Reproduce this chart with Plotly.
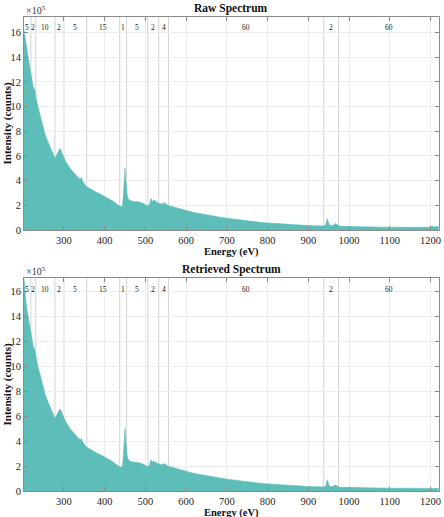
import plotly.graph_objects as go

# Energy axis (eV)
energy = [202,204,207,210,213,216,219,222,225,228,229,232,236,240,245,250,255,260,265,270,275,278,281,284,287,290,292,295,298,301,305,310,315,320,325,330,335,340,343,345,348,352,356,362,370,380,390,400,410,420,428,434,438,442,444,446,448,450,451,453,455,457,460,465,470,475,480,485,490,495,500,504,507,510,512,514,516,518,520,522,525,530,535,540,544,546,548,551,555,560,570,580,590,600,615,630,645,660,675,690,705,720,735,750,765,780,795,810,825,840,855,870,885,900,915,930,940,943,945,947,949,952,956,960,964,967,970,974,980,990,1000,1020,1040,1060,1080,1100,1120,1140,1160,1180,1195,1200,1205,1210,1215,1220]

# Intensity in units of 1e5 counts
raw = [16.2,15.7,15.0,14.3,13.8,13.2,12.6,12.0,11.5,11.4,11.1,10.6,10.0,9.5,8.8,8.1,7.6,7.2,6.8,6.4,6.0,5.8,6.0,6.2,6.4,6.6,6.5,6.3,6.0,5.8,5.5,5.2,5.0,4.8,4.6,4.4,4.25,4.1,4.25,4.0,3.8,3.65,3.5,3.38,3.22,3.05,2.9,2.73,2.55,2.35,2.15,2.0,1.92,1.9,2.0,2.8,3.8,5.0,4.4,3.5,2.9,2.6,2.45,2.35,2.3,2.28,2.3,2.27,2.22,2.15,2.05,2.0,1.95,2.1,2.4,2.55,2.35,2.3,2.45,2.4,2.25,2.2,2.15,2.1,2.15,2.25,2.15,2.05,2.0,1.95,1.85,1.75,1.65,1.55,1.45,1.35,1.25,1.17,1.08,1.0,0.93,0.86,0.8,0.74,0.68,0.63,0.58,0.54,0.5,0.47,0.44,0.41,0.38,0.36,0.34,0.33,0.33,0.45,0.75,0.9,0.65,0.4,0.35,0.36,0.45,0.55,0.45,0.35,0.3,0.3,0.28,0.27,0.25,0.24,0.23,0.22,0.22,0.21,0.21,0.22,0.22,0.25,0.3,0.25,0.3,0.24]

retrieved = [17.0,16.0,15.1,14.4,13.8,13.2,12.6,12.0,11.5,11.4,11.1,10.6,10.0,9.5,8.8,8.1,7.6,7.2,6.8,6.4,6.0,5.8,6.0,6.2,6.4,6.55,6.5,6.3,6.0,5.8,5.5,5.2,5.0,4.8,4.6,4.4,4.25,4.1,4.2,4.0,3.8,3.65,3.5,3.38,3.22,3.05,2.9,2.73,2.55,2.35,2.15,2.0,1.92,1.9,2.0,2.8,3.8,5.0,4.4,3.5,2.9,2.6,2.45,2.35,2.3,2.28,2.3,2.27,2.22,2.15,2.05,2.0,1.95,2.1,2.4,2.5,2.35,2.3,2.4,2.35,2.25,2.2,2.15,2.1,2.15,2.2,2.15,2.05,2.0,1.95,1.85,1.75,1.65,1.55,1.45,1.35,1.25,1.17,1.08,1.0,0.93,0.86,0.8,0.74,0.68,0.63,0.58,0.54,0.5,0.47,0.44,0.41,0.38,0.36,0.34,0.33,0.33,0.45,0.75,0.9,0.65,0.4,0.35,0.36,0.42,0.5,0.42,0.33,0.3,0.29,0.28,0.27,0.25,0.24,0.23,0.22,0.22,0.21,0.21,0.21,0.21,0.21,0.21,0.21,0.21,0.21]

# Acquisition region boundaries (eV) and step labels
boundaries = [202, 219, 231, 278, 300, 356, 437, 454, 506, 533, 557, 938, 974, 1221]
step_labels = ["5", "2", "10", "2", "5", "15", "1", "5", "2", "4", "60", "2", "60"]

x_ticks = [300, 400, 500, 600, 700, 800, 900, 1000, 1100, 1200]
y_ticks = [0, 2, 4, 6, 8, 10, 12, 14, 16]

titles = ["Raw Spectrum", "Retrieved Spectrum"]
series = [raw, retrieved]
y_max = [17.25, 17.05]

W, H = 444, 517
FILL = "#5cbdb9"
SERIF = "Liberation Serif, Times New Roman, serif"

# pixel boxes for each panel: (top, bottom)
panels = [(17, 230), (278, 491)]
x_left, x_right = 24, 439

fig = go.Figure()
annotations = []
shapes = []
for i, (vals, title) in enumerate(zip(series, titles)):
    xa = "x" if i == 0 else "x2"
    ya = "y" if i == 0 else "y2"
    fig.add_trace(go.Scatter(x=energy, y=vals, mode="lines", fill="tozeroy",
                             fillcolor=FILL, line=dict(color=FILL, width=0.6),
                             xaxis=xa, yaxis=ya, showlegend=False, hoverinfo="skip"))
    top, bot = panels[i]
    dom_y = [1 - bot / H, 1 - top / H]
    axis_common = dict(showline=True, linecolor="#8c8c8c", linewidth=1, mirror="allticks",
                       ticks="inside", ticklen=4, tickcolor="#8c8c8c",
                       showgrid=True, gridcolor="#ececec", gridwidth=1, zeroline=False,
                       tickfont=dict(family=SERIF, size=10.5, color="#262626"),
                       automargin=False)
    xkey = "xaxis" if i == 0 else "xaxis2"
    ykey = "yaxis" if i == 0 else "yaxis2"
    fig.update_layout(**{
        xkey: dict(axis_common, domain=[x_left / W, x_right / W], range=[202, 1221],
                   tickvals=x_ticks, anchor=ya),
        ykey: dict(axis_common, domain=dom_y, range=[0, y_max[i]],
                   tickvals=y_ticks, anchor=xa),
    })
    # region lines
    for b in boundaries[1:-1]:
        shapes.append(dict(type="line", xref=xa, x0=b, x1=b,
                           yref=ya + " domain", y0=0, y1=1,
                           line=dict(color="#d2d2d2", width=1), layer="below"))
    # region labels
    for j, lab in enumerate(step_labels):
        mid = (boundaries[j] + boundaries[j + 1]) / 2
        annotations.append(dict(x=mid, xref=xa, y=1 - (top + 11) / H, yref="paper",
                                text=lab, showarrow=False,
                                font=dict(family=SERIF, size=7.5, color="#222222"),
                                xanchor="center", yanchor="middle"))
    cx = (x_left + x_right) / 2 / W
    annotations.append(dict(x=cx, y=1 - (top - 9) / H, xref="paper", yref="paper",
                            text="<b>" + title + "</b>", showarrow=False,
                            font=dict(family=SERIF, size=11.5, color="#111"),
                            xanchor="center", yanchor="middle"))
    annotations.append(dict(x=x_left / W, y=1 - (top - 7) / H, xref="paper", yref="paper",
                            text="×10<sup>5</sup>", showarrow=False,
                            font=dict(family=SERIF, size=10, color="#333"),
                            xanchor="left", yanchor="middle"))
    annotations.append(dict(x=cx, y=1 - (bot + 21.5) / H, xref="paper", yref="paper",
                            text="<b>Energy (eV)</b>", showarrow=False,
                            font=dict(family=SERIF, size=10.5, color="#111"),
                            xanchor="center", yanchor="middle"))
    annotations.append(dict(x=7 / W, y=1 - ((top + bot) / 2) / H, xref="paper", yref="paper",
                            text="<b>Intensity (counts)</b>", showarrow=False, textangle=-90,
                            font=dict(family=SERIF, size=11, color="#111"),
                            xanchor="center", yanchor="middle"))

fig.update_layout(width=W, height=H, margin=dict(l=0, r=0, t=0, b=0),
                  paper_bgcolor="white", plot_bgcolor="white",
                  annotations=annotations, shapes=shapes)
fig.write_html("out.html")
